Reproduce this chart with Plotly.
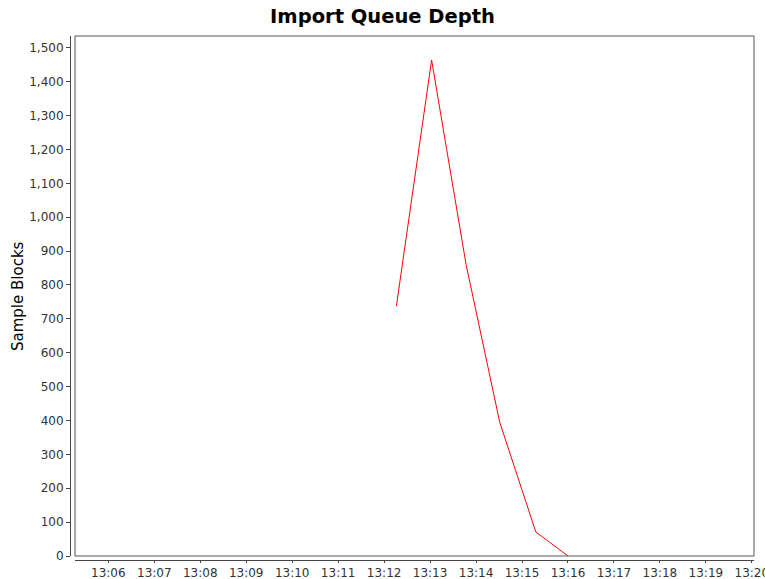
import plotly.graph_objects as go

# samples of the import queue
times = ["2024-01-01 13:12:16", "2024-01-01 13:13:02", "2024-01-01 13:13:47",
         "2024-01-01 13:14:31", "2024-01-01 13:15:18", "2024-01-01 13:16:00"]
depth = [738, 1464, 860, 394, 71, 0]

x_range = ["2024-01-01 13:05:16.5", "2024-01-01 13:20:02.8"]
y_range = [0, 1535]

font = "DejaVu Sans"

fig = go.Figure()
fig.add_trace(go.Scatter(x=times, y=depth, mode="lines",
                         line=dict(color="#ff0000", width=1), hoverinfo="x+y"))

fig.update_layout(
    width=765, height=579,
    margin=dict(l=70, r=11, t=36, b=19, autoexpand=False),
    paper_bgcolor="white", plot_bgcolor="white",
    showlegend=False,
    font=dict(family=font, size=12, color="#333333"),
    title=dict(text="<b>Import Queue Depth</b>", x=0.5, xanchor="center",
               y=1 - 16 / 579, yanchor="middle", automargin=False,
               font=dict(family=font, size=19.5, color="black")),
    xaxis=dict(domain=[5 / 684, 1], range=x_range, type="date",
               anchor="free", position=0, automargin=False,
               tickformat="%H:%M", dtick=60000, tick0="2024-01-01 13:00:00",
               ticklabeloverflow="allow",
               showgrid=False, zeroline=False,
               showline=True, linecolor="#444444", linewidth=1,
               ticks="outside", ticklen=2, tickcolor="#444444",
               tickfont=dict(family=font, size=12, color="#333333")),
    yaxis=dict(domain=[4 / 524, 1], range=y_range,
               anchor="free", position=0, automargin=False,
               dtick=100, tickformat=",d",
               showgrid=False, zeroline=False,
               showline=True, linecolor="#444444", linewidth=1,
               ticks="outside", ticklen=4, tickcolor="#444444",
               tickfont=dict(family=font, size=12, color="#333333")),
)

# y axis title as annotation (standoff is ignored without automargin)
fig.add_annotation(text="Sample Blocks", textangle=-90, showarrow=False,
                   xref="paper", yref="y domain", x=(18 - 70) / 684, y=0.5,
                   xanchor="center", yanchor="middle",
                   font=dict(family=font, size=15, color="black"))

# plot border
fig.add_shape(type="rect", xref="x domain", yref="y domain",
              x0=0, x1=1, y0=0, y1=1,
              line=dict(color="#555555", width=1), layer="above")

# page body has an 8px default margin, drop it so the chart fills the window
fig.write_html("out.html", config={"displayModeBar": False},
               post_script="document.body.style.margin='0';")
